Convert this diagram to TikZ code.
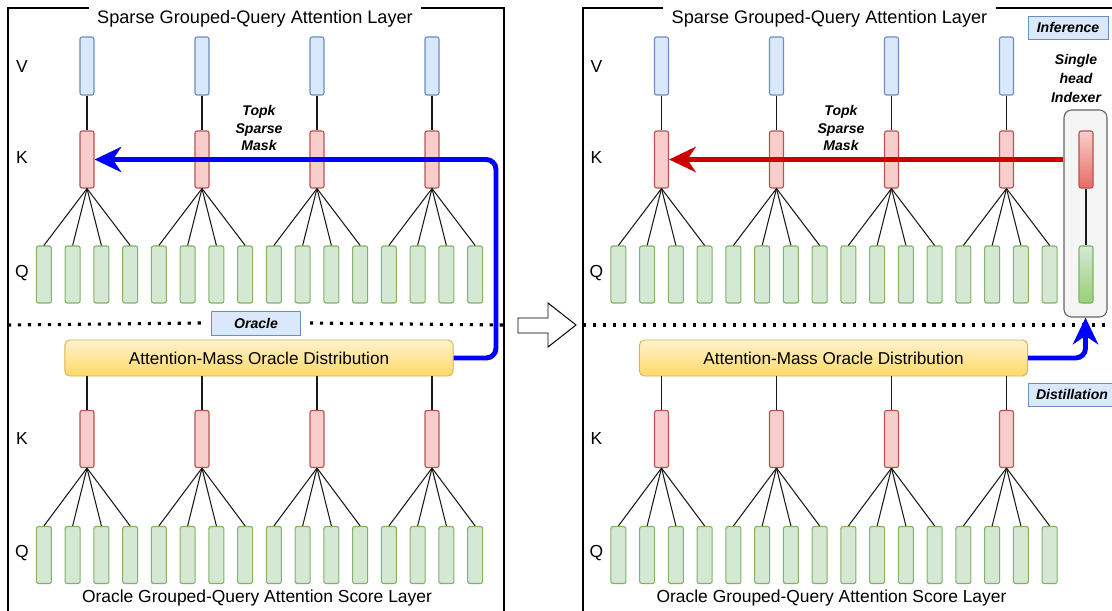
\documentclass[tikz,border=0pt]{standalone}
\usepackage{fontspec}
\setmainfont{Liberation Sans}
\usetikzlibrary{arrows.meta,calc}

\definecolor{vfill}{HTML}{DAE8FC}
\definecolor{vline}{HTML}{6C8EBF}
\definecolor{kfill}{HTML}{F8CECC}
\definecolor{kline}{HTML}{B85450}
\definecolor{kdeep}{HTML}{EA6B66}
\definecolor{qfill}{HTML}{D5E8D4}
\definecolor{qline}{HTML}{82B366}
\definecolor{qdeep}{HTML}{97D077}
\definecolor{amtop}{HTML}{FFF2CC}
\definecolor{ambot}{HTML}{FFD966}
\definecolor{amline}{HTML}{D6B656}
\definecolor{idxfill}{HTML}{F5F5F5}
\definecolor{idxline}{HTML}{666666}
\definecolor{maskblue}{HTML}{0000FF}
\definecolor{maskred}{HTML}{CC0000}

\tikzset{headbox/.style={draw, rounded corners=1.5pt, line width=0.8pt, minimum width=0.35cm, minimum height=1.45cm, inner sep=0pt}}
\tikzset{vbox/.style={headbox, fill=vfill, draw=vline}}
\tikzset{kbox/.style={headbox, fill=kfill, draw=kline, minimum height=1.425cm}}
\tikzset{qbox/.style={headbox, fill=qfill, draw=qline, minimum width=0.375cm, minimum height=1.425cm}}
\tikzset{link/.style={line width=0.75pt, color=black!90}}
\tikzset{tag/.style={draw=vline, fill=vfill, line width=0.7pt, inner sep=0pt, font=\fontsize{10}{12}\selectfont\bfseries\itshape}}
\tikzset{note/.style={align=center, font=\fontsize{10}{12.4}\selectfont\bfseries\itshape}}
\tikzset{caption/.style={inner xsep=6pt, inner ysep=3pt, font=\fontsize{12.4}{14}\selectfont}}
\tikzset{panel/.style={line width=0.9pt}}
\tikzset{sepline/.style={line width=2.2pt, dash pattern=on 2.2pt off 4.9pt}}
\tikzset{massbox/.style={draw=amline, top color=amtop, bottom color=ambot, rounded corners=3.5pt, line width=0.7pt, minimum width=9.7cm, minimum height=0.9cm, font=\fontsize{12.2}{14}\selectfont}}
\tikzset{idxbox/.style={draw=idxline, fill=idxfill, rounded corners=5.5pt, line width=0.8pt, minimum width=1.075cm, minimum height=5.175cm}}
\tikzset{maskarrow/.style={line width=3.5pt, rounded corners=7pt, -{Stealth[length=19pt, width=18pt, inset=6pt]}}}

\begin{document}
\begin{tikzpicture}[x=0.025cm, y=-0.025cm]
    \useasboundingbox (0,0) rectangle (1112,611);
    \clip (0,0) rectangle (1112,611);

    % the two layer frames
    \draw[panel] (8,620) -- (8,8) -- (504,8) -- (504,620);
    \draw[panel] (583,620) -- (583,8) -- (1120,8);

    % dotted split between the sparse layer and the score layer
    \coordinate (sepaL) at (8,325);
    \coordinate (sepbL) at (504,325);
    \coordinate (sepaR) at (583,325);
    \coordinate (sepbR) at (1112,325);
    \node[tag, minimum width=2.2cm, minimum height=0.6cm, outer xsep=0.25cm] (ORL) at (256,323) {Oracle};
    \draw[sepline] (sepaL) -- (ORL.west);
    \draw[sepline] (ORL.east) -- (sepbL);
    \draw[sepline] (sepaR) -- (sepbR);

    % heads: V, K, Q on top, K, Q below
    \foreach \p/\dx in {L/0, R/574.5} {
        \foreach \i [evaluate=\i as \cx using 87+115*(\i-1)+\dx] in {1,...,4} {
            \node[vbox] (V\p\i) at (\cx,66) {};
            \node[kbox] (K\p\i) at (\cx,159.5) {};
            \node[kbox] (BK\p\i) at (\cx,439) {};
            \draw[link] (V\p\i) -- (K\p\i);
        }
        \foreach \j [evaluate=\j as \qx using 43.9+28.75*(\j-1)+\dx,
                     evaluate=\j as \g using int((\j-1)/4+1)] in {1,...,16} {
            \node[qbox] (Q\p\j) at (\qx,274.5) {};
            \node[qbox] (BQ\p\j) at (\qx,555) {};
            \draw[link] (K\p\g.south) -- (Q\p\j.north);
            \draw[link] (BK\p\g.south) -- (BQ\p\j.north);
        }
        \node[massbox] (AM\p) at (259+\dx,358) {Attention-Mass Oracle Distribution};
        \foreach \i in {1,...,4}
            \draw[link] (AM\p.south -| BK\p\i) -- (BK\p\i.north);

        \node[caption] (Vlab\p) at (22+\dx,67) {V};
        \node[caption] (Klab\p) at (22+\dx,158) {K};
        \node[caption] (Qlab\p) at (22+\dx,273) {Q};
        \node[caption] (BKlab\p) at (22+\dx,438) {K};
        \node[caption] (BQlab\p) at (22+\dx,553) {Q};
        \node[caption, fill=white, font=\fontsize{12.9}{15}\selectfont] (top\p) at (255+\dx,19) {Sparse Grouped-Query Attention Layer};
        \node[caption] (bot\p) at (257+\dx,598) {Oracle Grouped-Query Attention Score Layer};
    }

    % single head indexer
    \node[idxbox] (IDX) at (1085.5,213.5) {};
    \node[kbox, top color=kfill, bottom color=kdeep] (IK) at (1086,159.5) {};
    \node[qbox, minimum width=0.35cm, top color=qfill, bottom color=qdeep] (IQ) at (1086,274.5) {};
    \draw[link] (IK) -- (IQ);
    \node[note, font=\fontsize{10}{13.5}\selectfont\bfseries\itshape] (IDXlab) at (1076,78) {Single\\head\\Indexer};

    \node[tag, minimum width=2cm, minimum height=0.575cm] (INF) at (1068,27.5) {Inference};
    \node[tag, minimum width=2.2cm, minimum height=0.575cm] (DIS) at (1072,394.5) {Distillation};

    \node[note] (maskL) at (259,128) {Topk\\Sparse\\Mask};
    \node[note] (maskR) at (841,128) {Topk\\Sparse\\Mask};

    % top-k mask arrows
    \coordinate (bendL) at (496,159.5);
    \draw[maskarrow, maskblue] (AML.east) -| (bendL) -- (KL1.east);
    \draw[maskarrow, maskred] (IDX.west |- KR1.east) -- (KR1.east);
    \draw[maskarrow, maskblue] (AMR.east) -| (IDX.south);

    % hollow arrow between the two layers
    \draw[line width=0.7pt, fill=white] (518,318) -- (548,318) -- (548,303) -- (576,325)
        -- (548,347) -- (548,333) -- (518,333) -- cycle;
\end{tikzpicture}
\end{document}
